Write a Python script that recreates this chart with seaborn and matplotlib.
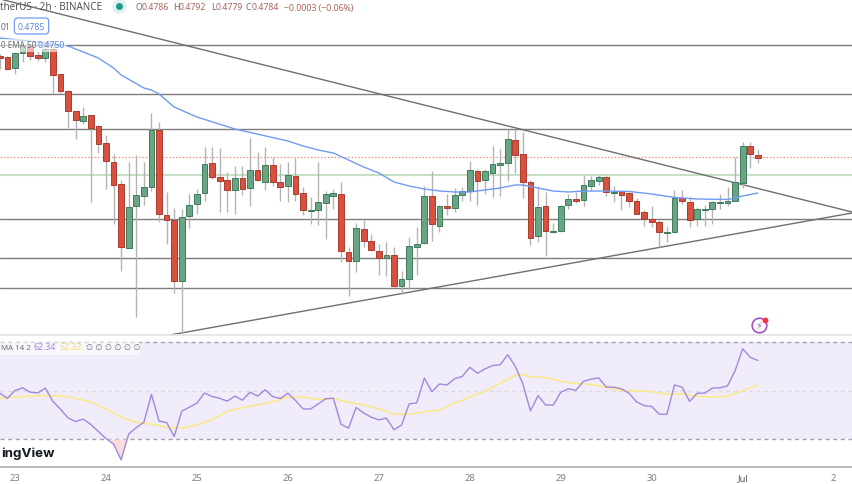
import numpy as np
import pandas as pd
import matplotlib
matplotlib.use("Agg")
import matplotlib.pyplot as plt
import matplotlib.patches as mpatches
import seaborn as sns

# 2h candles, index 0 = the 00:00 candle of the 23rd
opens = [0.48737, 0.48728, 0.48629, 0.48764, 0.48827, 0.48746, 0.48719, 0.48800, 0.48575, 0.48422,
         0.48242, 0.48152, 0.48206, 0.48107, 0.47954, 0.47783, 0.47585, 0.47009, 0.47387, 0.47477,
         0.47558, 0.48071, 0.47306, 0.47261, 0.46712, 0.47297, 0.47405, 0.47504, 0.47774, 0.47648,
         0.47621, 0.47531, 0.47639, 0.47549, 0.47711, 0.47603, 0.47756, 0.47603, 0.47567, 0.47657,
         0.47504, 0.47342, 0.47351, 0.47414, 0.47477, 0.47495, 0.46973, 0.46892, 0.47180, 0.47072,
         0.46982, 0.46919, 0.46946, 0.46667, 0.46730, 0.47018, 0.47054, 0.47477, 0.47207, 0.47387,
         0.47369, 0.47486, 0.47522, 0.47702, 0.47621, 0.47684, 0.47756, 0.47774, 0.47981, 0.47855,
         0.47603, 0.47117, 0.47387, 0.47153, 0.47162, 0.47396, 0.47450, 0.47441, 0.47567, 0.47612,
         0.47648, 0.47504, 0.47522, 0.47504, 0.47432, 0.47333, 0.47270, 0.47243, 0.47144, 0.47153,
         0.47459, 0.47423, 0.47270, 0.47351, 0.47360, 0.47414, 0.47414, 0.47432, 0.47594, 0.47927,
         0.47846]
highs = [0.48755, 0.48737, 0.48773, 0.48863, 0.48845, 0.48782, 0.48872, 0.48845, 0.48575, 0.48431,
         0.48242, 0.48278, 0.48206, 0.48116, 0.48026, 0.47855, 0.47621, 0.47783, 0.47846, 0.47783,
         0.48224, 0.48143, 0.47513, 0.47369, 0.47360, 0.47495, 0.47540, 0.47918, 0.47918, 0.47909,
         0.47693, 0.47747, 0.47747, 0.47999, 0.47873, 0.47918, 0.47828, 0.47765, 0.47783, 0.47819,
         0.47558, 0.47468, 0.47783, 0.47522, 0.47540, 0.47603, 0.47018, 0.47234, 0.47261, 0.47135,
         0.47045, 0.47063, 0.47018, 0.46802, 0.47108, 0.47198, 0.47567, 0.47702, 0.47396, 0.47495,
         0.47549, 0.47558, 0.47792, 0.47720, 0.47720, 0.47927, 0.47900, 0.48080, 0.48080, 0.48053,
         0.47621, 0.47567, 0.47513, 0.47234, 0.47396, 0.47495, 0.47513, 0.47666, 0.47657, 0.47666,
         0.47666, 0.47567, 0.47522, 0.47513, 0.47459, 0.47351, 0.47387, 0.47261, 0.47207, 0.47531,
         0.47531, 0.47468, 0.47378, 0.47396, 0.47432, 0.47495, 0.47558, 0.47828, 0.47963, 0.47963,
         0.47900]
lows = [0.48620, 0.48611, 0.48575, 0.48683, 0.48701, 0.48692, 0.48683, 0.48404, 0.48395, 0.48089,
        0.47990, 0.48125, 0.47423, 0.47864, 0.47540, 0.47225, 0.46802, 0.47009, 0.46388, 0.47396,
        0.47522, 0.47243, 0.47045, 0.46604, 0.46235, 0.47189, 0.47315, 0.47432, 0.47630, 0.47333,
        0.47333, 0.47315, 0.47486, 0.47387, 0.47612, 0.47531, 0.47567, 0.47432, 0.47423, 0.47432,
        0.47306, 0.47225, 0.47216, 0.47090, 0.47360, 0.46883, 0.46577, 0.46793, 0.47018, 0.46982,
        0.46766, 0.46757, 0.46658, 0.46595, 0.46640, 0.46766, 0.47045, 0.47072, 0.47153, 0.47306,
        0.47333, 0.47432, 0.47432, 0.47396, 0.47495, 0.47468, 0.47477, 0.47612, 0.47684, 0.47459,
        0.47036, 0.47063, 0.46937, 0.47144, 0.47153, 0.47360, 0.47414, 0.47387, 0.47522, 0.47576,
        0.47477, 0.47423, 0.47351, 0.47378, 0.47315, 0.47207, 0.47198, 0.47018, 0.47063, 0.47144,
        0.47405, 0.47198, 0.47207, 0.47207, 0.47225, 0.47360, 0.47387, 0.47432, 0.47549, 0.47729,
        0.47774]
closes = [0.48719, 0.48620, 0.48764, 0.48827, 0.48737, 0.48719, 0.48800, 0.48566, 0.48422, 0.48242,
          0.48161, 0.48197, 0.48089, 0.47945, 0.47792, 0.47576, 0.47018, 0.47378, 0.47486, 0.47558,
          0.48071, 0.47315, 0.47261, 0.46712, 0.47288, 0.47396, 0.47495, 0.47765, 0.47648, 0.47612,
          0.47531, 0.47639, 0.47540, 0.47711, 0.47621, 0.47756, 0.47603, 0.47558, 0.47666, 0.47495,
          0.47351, 0.47351, 0.47423, 0.47495, 0.47504, 0.46982, 0.46892, 0.47189, 0.47072, 0.46991,
          0.46919, 0.46946, 0.46667, 0.46730, 0.47027, 0.47045, 0.47477, 0.47225, 0.47387, 0.47369,
          0.47486, 0.47522, 0.47711, 0.47612, 0.47702, 0.47765, 0.47774, 0.47990, 0.47846, 0.47603,
          0.47099, 0.47378, 0.47162, 0.47162, 0.47387, 0.47450, 0.47432, 0.47576, 0.47621, 0.47648,
          0.47513, 0.47513, 0.47486, 0.47432, 0.47315, 0.47270, 0.47243, 0.47153, 0.47153, 0.47459,
          0.47432, 0.47261, 0.47360, 0.47360, 0.47423, 0.47423, 0.47432, 0.47603, 0.47927, 0.47855,
          0.47819]

ema_idx = [-2, 3, 7, 11, 13, 14, 17, 18, 19, 21, 24, 29, 36, 38, 40, 42, 44, 46, 48, 50, 52,
           54, 56, 58, 60, 62, 64, 66, 67, 69, 71, 73, 75, 78, 81, 84, 87, 90, 94, 95, 96, 98]
ema_vals = [0.48899, 0.48863, 0.48827, 0.48719, 0.48629, 0.48566, 0.48449, 0.48431, 0.48395, 0.48278,
            0.48188, 0.48080, 0.47972, 0.47927, 0.47891, 0.47864, 0.47801, 0.47738, 0.47684, 0.47603,
            0.47567, 0.47540, 0.47522, 0.47513, 0.47513, 0.47531, 0.47549, 0.47576, 0.47576, 0.47549,
            0.47522, 0.47513, 0.47522, 0.47522, 0.47518, 0.47495, 0.47464, 0.47450, 0.47446, 0.47459,
            0.47477, 0.47504]

levels = [0.48836, 0.48395, 0.48080, 0.47270, 0.46919, 0.46649]
green_level = 0.47666
last_price = 0.47828
fall_idx = [-1.98, 110.42]
fall_vals = [0.4925, 0.47333]
rise_idx = [20.45, 110.42]
rise_vals = [0.46226, 0.47324]

rsi = [48.9, 46.8, 50.0, 51.1, 49.3, 49.0, 51.0, 45.5, 42.3, 38.7, 37.2, 38.2, 36.0, 33.1, 30.2, 27.9,
       21.4, 32.1, 34.7, 36.9, 48.4, 37.4, 36.8, 31.0, 41.5, 43.1, 44.8, 49.0, 47.5, 46.8, 45.6, 47.7,
       46.0, 49.3, 47.7, 50.3, 47.5, 46.7, 48.9, 45.9, 42.4, 42.4, 44.5, 46.6, 46.8, 36.1, 34.5, 43.0,
       40.7, 39.0, 37.9, 38.6, 33.8, 35.8, 44.5, 44.9, 55.1, 49.5, 52.7, 52.3, 54.9, 55.8, 59.6, 57.1,
       58.9, 60.3, 60.6, 64.8, 60.0, 52.7, 41.6, 47.9, 44.0, 44.0, 49.3, 50.7, 50.1, 53.8, 54.7, 55.2,
       51.4, 51.4, 50.7, 48.9, 45.3, 43.8, 43.4, 40.2, 40.2, 52.3, 51.4, 45.5, 48.9, 48.9, 51.0, 51.1,
       51.9, 58.2, 67.2, 63.7, 62.4]
rsi_ma_idx = [-2, 0, 2, 4, 6, 8, 10, 12, 14, 16, 18, 20, 22, 24, 26, 28, 30, 32, 34, 36, 38, 40, 42,
              44, 46, 48, 50, 52, 54, 56, 58, 60, 62, 64, 66, 67, 68, 70, 72, 74, 76, 78, 80, 82,
              84, 86, 88, 90, 92, 94, 96, 98]
rsi_ma = [46.8, 47.3, 47.7, 47.9, 47.8, 46.8, 45.3, 42.4, 39.0, 36.9, 36.1, 34.9, 34.5, 35.8, 38.0,
          41.5, 42.9, 44.1, 45.3, 47.3, 47.3, 46.3, 46.7, 45.2, 44.1, 42.4, 40.2, 40.2, 41.2, 41.9,
          44.8, 47.3, 49.7, 53.0, 56.2, 56.7, 55.6, 55.4, 53.8, 52.9, 52.5, 51.4, 50.0, 49.9, 49.5,
          48.5, 48.6, 47.7, 47.3, 47.7, 50.0, 52.3]

day_ticks = [0, 12, 24, 36, 48, 60, 72, 84, 96, 108]
day_labels = ["23", "24", "25", "26", "27", "28", "29", "30", "Jul", "2"]

RED = "#d9513e"
RED_EDGE = "#a93d2f"
GREEN = "#69a583"
GREEN_EDGE = "#3f7b5e"
WICK = "#b4b4b4"
LINE = "#7d7d7d"
FONT = "Noto Sans"

sns.set_theme(style="white")
plt.rcParams["font.family"] = [FONT, "DejaVu Sans"]

W, H = 852, 485
fig = plt.figure(figsize=(W / 100, H / 100), dpi=100)
ax = fig.add_axes([0, 1 - 336 / H, 1, 336 / H])
ax_rsi = fig.add_axes([0, (H - 468) / H, 1, 132 / H])

idx = np.arange(-2, len(opens) - 2)
df = pd.DataFrame({"idx": idx, "open": opens, "high": highs, "low": lows, "close": closes})
df["up"] = df["close"] >= df["open"]
df["body"] = (df["close"] - df["open"]).abs()
df["base"] = df[["open", "close"]].min(axis=1)

# drawn levels and trend lines go under the candles
for lv in levels:
    ax.axhline(lv, color=LINE, lw=1.0, zorder=1)
ax.axhline(green_level, color="#c5e0c4", lw=1.5, zorder=1)
ax.axhline(last_price, color="#f0907f", lw=0.9, ls=(0, (1.2, 1.5)), zorder=1)
ax.plot(fall_idx, fall_vals, color="#6f6f6f", lw=1.0, zorder=1)
ax.plot(rise_idx, rise_vals, color="#6f6f6f", lw=1.0, zorder=1)

ax.vlines(df["idx"], df["low"], df["high"], color=WICK, lw=1.0, zorder=2)
up = df[df["up"]]
down = df[~df["up"]]
ax.bar(up["idx"], up["body"], bottom=up["base"], width=0.76, color=GREEN,
       edgecolor=GREEN_EDGE, linewidth=0.7, zorder=3)
ax.bar(down["idx"], down["body"], bottom=down["base"], width=0.76, color=RED,
       edgecolor=RED_EDGE, linewidth=0.7, zorder=3)

ema_df = pd.DataFrame({"idx": ema_idx, "ema": ema_vals})
sns.lineplot(data=ema_df, x="idx", y="ema", ax=ax, color="#6f9bf0", lw=1.0, zorder=4)

ax.set_xlim(-1.98, 110.42)
ax.set_ylim(0.4925 - 0.00009 * 336, 0.4925)
ax.set_xticks([])
ax.set_yticks([])
ax.set_xlabel("")
ax.set_ylabel("")
for s in ["top", "left", "right"]:
    ax.spines[s].set_visible(False)
ax.spines["bottom"].set_color("#e4e4e4")
ax.spines["bottom"].set_linewidth(1.2)

# RSI pane
rsi_df = pd.DataFrame({"idx": idx, "rsi": rsi})
ma_df = pd.DataFrame({"idx": rsi_ma_idx, "ma": rsi_ma})
ax_rsi.axhspan(30, 70, color="#f0ecf9", zorder=0, lw=0)
ax_rsi.axhline(70, color="#a59fb0", lw=1.0, ls=(0, (3, 2.5)), zorder=1)
ax_rsi.axhline(30, color="#a59fb0", lw=1.0, ls=(0, (3, 2.5)), zorder=1)
ax_rsi.axhline(50, color="#dcd8e4", lw=1.0, ls=(0, (3, 2.5)), zorder=1)
ax_rsi.fill_between(rsi_df["idx"], rsi_df["rsi"], 30, where=rsi_df["rsi"] < 30,
                    interpolate=True, color="#fbdcdc", lw=0, zorder=1)
sns.lineplot(data=ma_df, x="idx", y="ma", ax=ax_rsi, color="#fbe985", lw=1.1, zorder=2)
sns.lineplot(data=rsi_df, x="idx", y="rsi", ax=ax_rsi, color="#a487dc", lw=1.0, zorder=3)
ax_rsi.set_xlim(-1.98, 110.42)
ax_rsi.set_ylim(18.45, 72.9)
ax_rsi.set_yticks([])
ax_rsi.set_xlabel("")
ax_rsi.set_ylabel("")
ax_rsi.set_xticks(day_ticks)
ax_rsi.set_xticklabels(day_labels, fontsize=6.8, color="#7b7e88")
ax_rsi.tick_params(axis="x", length=0, pad=4.5)
ax_rsi.get_xticklabels()[8].set_fontweight("bold")
ax_rsi.get_xticklabels()[8].set_color("#55585f")
for s in ["top", "left", "right"]:
    ax_rsi.spines[s].set_visible(False)
ax_rsi.spines["bottom"].set_color("#bdbdbd")
ax_rsi.spines["bottom"].set_linewidth(1.4)
ax_rsi.patch.set_alpha(0)


def px(x, y):
    return x / W, 1 - y / H


def label(x, y, s, **kw):
    kw.setdefault("fontsize", 6.3)
    kw.setdefault("va", "center")
    kw.setdefault("ha", "left")
    return fig.text(*px(x, y), s, **kw)


def dot(x, y, **kw):
    fig.add_artist(plt.Line2D([x / W], [1 - y / H], marker="o", lw=0,
                              transform=fig.transFigure, **kw))


# faded legend backgrounds
for x0, y0, x1, y1 in [(0, 40, 66, 53), (0, 343, 140, 356)]:
    fig.add_artist(mpatches.Rectangle(px(x0, y1), (x1 - x0) / W, (y1 - y0) / H,
                                      transform=fig.transFigure, color="white", alpha=0.6, lw=0))

GREY_TXT = "#6b6e78"
VAL_RED = "#a8665c"
label(0, 8, "therUS · 2h · BINANCE", fontsize=7.1, color="#50535c")
dot(119, 7, ms=9.5, color="#dff2ee")
dot(119, 7, ms=4, color="#1e9e8a")
for x, letter, value in [(136, "O", "0.4786"), (173, "H", "0.4792"), (211, "L", "0.4779"), (246, "C", "0.4784")]:
    label(x, 8, letter, color=GREY_TXT)
    label(x + (6 if letter != "L" else 4.5), 8, value, color=VAL_RED)
label(284, 8, "−0.0003 (−0.06%)", color=VAL_RED)
label(1, 27, "01", color=GREY_TXT, fontsize=6)
label(31.5, 27, "0.4785", color="#5b86e6", ha="center",
      bbox=dict(boxstyle="round,pad=0.4", fc="white", ec="#6f9bf0", lw=0.9))
label(1, 46, "0 EMA 50", color=GREY_TXT, fontsize=5.9)
label(38, 46, "0.4750", color="#5b86e6")
label(1, 348, "MA 14 2", color=GREY_TXT, fontsize=5.7)
label(33, 348, "62.34", color="#a487dc")
label(59, 348, "52.32", color="#f7dc5a")
label(86, 348, "∅ ∅ ∅ ∅ ∅ ∅", color=GREY_TXT, fontsize=5.8, family="DejaVu Sans")
label(1, 454, "ingView", fontsize=9.6, fontweight="bold", color="#131722", family="Inter")

# lightning badge
dot(759, 326, ms=10.5, mfc="white", mec="#a74fc4", mew=1.2)
label(759, 326, "⚡", ha="center", fontsize=7, color="#a74fc4", family="DejaVu Sans")
dot(764.5, 321, ms=3.2, color="#f23645")

fig.savefig("out.png", dpi=100)
